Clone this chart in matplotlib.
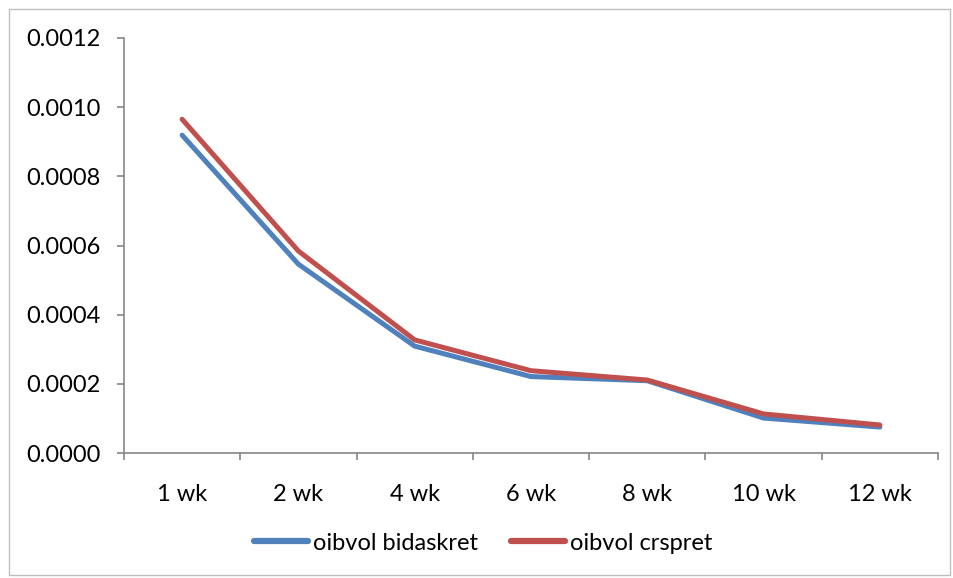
import matplotlib
matplotlib.use("Agg")
import matplotlib.pyplot as plt
from matplotlib.patches import Rectangle
from matplotlib.ticker import FixedLocator, FormatStrFormatter

categories = ["1 wk", "2 wk", "4 wk", "6 wk", "8 wk", "10 wk", "12 wk"]
bidaskret = [0.000919, 0.000546, 0.000309, 0.000221, 0.000209, 0.000101, 0.000075]
crspret = [0.000965, 0.000584, 0.000327, 0.000238, 0.000211, 0.000113, 0.000081]
series_names = ["oibvol bidaskret", "oibvol crspret"]
yticks = [0.0, 0.0002, 0.0004, 0.0006, 0.0008, 0.0010, 0.0012]

plt.rcParams['font.family'] = ['Lato', 'DejaVu Sans']

fig = plt.figure(figsize=(9.54, 5.78), dpi=100)
ax = fig.add_axes([124/954, 1-453/578, (938-124)/954, (453-38)/578])

x = list(range(len(categories)))
ax.plot(x, bidaskret, color='#4F81BD', lw=3.6, solid_joinstyle='round',
        solid_capstyle='round', label=series_names[0])
ax.plot(x, crspret, color='#C0504D', lw=3.6, solid_joinstyle='round',
        solid_capstyle='round', label=series_names[1])

ax.set_xlim(-0.5, len(categories) - 0.5)
ax.set_ylim(0, 0.0012)
ax.set_yticks(yticks)
ax.yaxis.set_major_formatter(FormatStrFormatter('%.4f'))
ax.set_xticks(x)
ax.set_xticklabels(categories)
ax.xaxis.set_minor_locator(FixedLocator([i - 0.5 for i in range(len(categories) + 1)]))

axis_col = '#868686'
for s in ['top', 'right']:
    ax.spines[s].set_visible(False)
for s in ['left', 'bottom']:
    ax.spines[s].set_color(axis_col)
    ax.spines[s].set_linewidth(1.2)

ax.tick_params(axis='y', which='major', length=5, width=1.2, color=axis_col,
               labelsize=17, pad=12, labelcolor='black')
ax.tick_params(axis='x', which='major', length=0, labelsize=17, pad=22,
               labelcolor='black')
ax.tick_params(axis='x', which='minor', length=5, width=1.2, color=axis_col,
               direction='out')

h, l = ax.get_legend_handles_labels()
leg = fig.legend(h, l, loc='center', bbox_to_anchor=(483/954, 1-543/578),
                 ncol=2, frameon=False, fontsize=17, handlelength=2.3,
                 handletextpad=0.2, columnspacing=1.4)
for line in leg.get_lines():
    line.set_linewidth(4.5)

fig.patches.append(Rectangle((9/954, 1-575/578), (950-9)/954, (575-9)/578,
                             transform=fig.transFigure, fill=False,
                             edgecolor='#BFBFBF', linewidth=1.0))

fig.savefig("out.png", dpi=100)
